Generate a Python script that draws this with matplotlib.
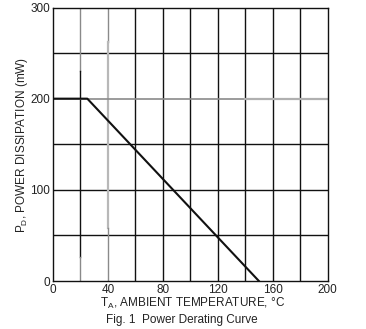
import matplotlib.pyplot as plt

plt.rcParams['font.family'] = ['Liberation Sans', 'DejaVu Sans']
plt.rcParams['mathtext.fontset'] = 'custom'
plt.rcParams['mathtext.rm'] = 'Liberation Sans'
plt.rcParams['mathtext.it'] = 'Liberation Sans'

# derating curve: flat to 25 C, then linear to zero at 150 C
temp_c = [0, 25, 150]
power_mw = [200, 200, 0]

x_ticks = [0, 40, 80, 120, 160, 200]
y_ticks = [0, 100, 200, 300]
x_grid = [60, 80, 100, 120, 140, 160, 180]
y_grid = [50, 100, 150, 250]

W, H = 366, 329
fig = plt.figure(figsize=(W / 100, H / 100), dpi=100)
ax = fig.add_axes([53 / W, 48 / H, 274.5 / W, 273.5 / H])
ax.set_xlim(0, 200)
ax.set_ylim(0, 300)

# black grid lines
for x in x_grid:
    ax.axvline(x, color='#111111', lw=1.0, zorder=1)
for y in y_grid:
    ax.axhline(y, color='#111111', lw=1.0, zorder=1)

# grid lines that come out partly grey
ax.plot([20, 20], [300, 230], color='#8a8a8a', lw=1.0, zorder=1)
ax.plot([20, 20], [230, 26], color='#111111', lw=1.0, zorder=1)
ax.plot([20, 20], [26, 0], color='#8a8a8a', lw=1.0, zorder=1)
ax.plot([40, 40], [300, 262], color='#8a8a8a', lw=1.0, zorder=1)
ax.plot([40, 40], [262, 58], color='#b8b8b8', lw=1.6, zorder=1)
ax.plot([40, 40], [58, 0], color='#8a8a8a', lw=1.0, zorder=1)
ax.plot([0, 140], [200, 200], color='#8a8a8a', lw=1.2, zorder=1)
ax.plot([140, 200], [200, 200], color='#b0b0b0', lw=1.6, zorder=1)

ax.plot(temp_c, power_mw, color='#111111', lw=1.5, zorder=3)

ax.set_xticks(x_ticks)
ax.set_yticks(y_ticks)
ax.tick_params(length=0, labelsize=8.5, colors='#222222', pad=2)
for s in ax.spines.values():
    s.set_color('#111111')
    s.set_linewidth(1.0)

fig.text(22 / W, 1 - 145 / H, r'P$_\mathrm{D}$, POWER DISSIPATION (mW)',
         rotation=90, ha='center', va='center', fontsize=8.5, color='#222222')
fig.text(193 / W, 1 - 303 / H, r'T$_\mathrm{A}$, AMBIENT TEMPERATURE, °C',
         ha='center', va='center', fontsize=8.5, color='#222222')
fig.text(182 / W, 1 - 320 / H, 'Fig. 1  Power Derating Curve',
         ha='center', va='center', fontsize=8.5, color='#222222')

plt.savefig('out.png', dpi=100)
